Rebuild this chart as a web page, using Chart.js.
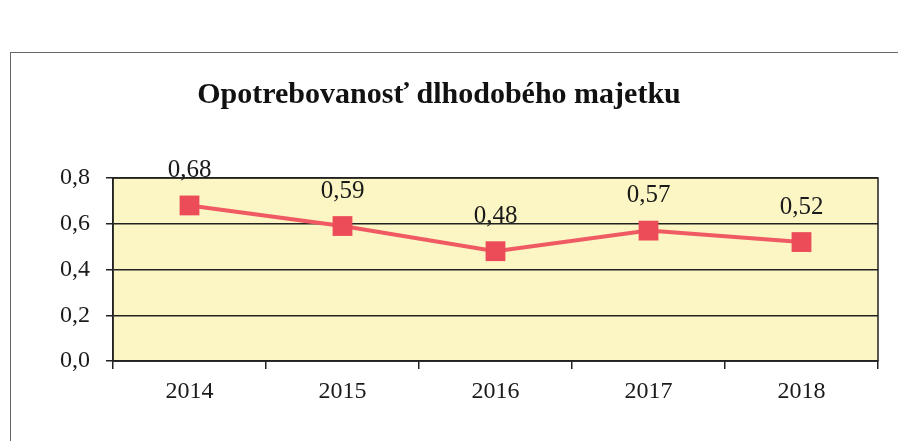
<!DOCTYPE html>
<html>
<head>
<meta charset="utf-8">
<script src="https://cdn.jsdelivr.net/npm/chart.js@4.4.1/dist/chart.umd.min.js"></script>
<style>
  html, body { margin: 0; padding: 0; background: #fff; }
  #frame {
    position: absolute; left: 10px; top: 52px; width: 900px; height: 400px;
    border-left: 1.5px solid #666; border-top: 1.5px solid #666;
  }
  #wrap { position: absolute; left: 0; top: 0; width: 898px; height: 441px; }
</style>
</head>
<body>
<div id="frame"></div>
<div id="wrap"><canvas id="grafico"></canvas></div>
<script>
// data
const roky = ['2014', '2015', '2016', '2017', '2018'];
const opotrebovanost = [0.68, 0.59, 0.48, 0.57, 0.52];
const osY = [0, 0.2, 0.4, 0.6, 0.8];

const pismo = "'Liberation Serif', 'Times New Roman', serif";
const ciarka = v => v.toFixed(1).replace('.', ',');

// zlte pozadie plochy grafu
const pozadiePlochy = {
    id: 'pozadiePlochy',
    beforeDraw(chart) {
        const { ctx, chartArea: { left, top, width, height } } = chart;
        ctx.save();
        ctx.fillStyle = '#fbf6c3';
        ctx.fillRect(left, top, width, height);
        ctx.restore();
    },
    afterDraw(chart) {
        // ram okolo plochy
        const { ctx, chartArea: { left, top, right, bottom } } = chart;
        ctx.save();
        ctx.strokeStyle = '#222';
        ctx.lineWidth = 1.5;
        ctx.strokeRect(left, top, right - left, bottom - top);
        ctx.restore();
    }
};

// popisky hodnot nad bodmi
const popisky = {
    id: 'popisky',
    afterDatasetsDraw(chart) {
        const { ctx } = chart;
        const meta = chart.getDatasetMeta(0);
        ctx.save();
        ctx.font = '25px ' + pismo;
        ctx.fillStyle = '#1a1a1a';
        ctx.textAlign = 'center';
        ctx.textBaseline = 'middle';
        meta.data.forEach((bod, i) => {
            ctx.fillText(opotrebovanost[i].toFixed(2).replace('.', ','), bod.x, bod.y - 35);
        });
        ctx.restore();
    }
};

new Chart(document.getElementById('grafico'), {
    type: 'line',
    data: {
        labels: roky,
        datasets: [{
            data: opotrebovanost,
            borderColor: '#ef5a63',
            backgroundColor: '#ec4c58',
            borderWidth: 4,
            pointStyle: 'rect',
            pointRadius: 14,
            pointBorderWidth: 0,
            tension: 0
        }]
    },
    options: {
        responsive: true,
        maintainAspectRatio: false,
        animation: false,
        layout: { padding: { top: 77, right: 20, bottom: 20, left: 0 } },
        plugins: {
            legend: { display: false },
            tooltip: { enabled: false },
            title: {
                display: true,
                text: 'Opotrebovanosť dlhodobého majetku',
                color: '#111',
                font: { family: pismo, size: 30, weight: 'bold' },
                padding: { top: 0, bottom: 65 }
            }
        },
        scales: {
            x: {
                offset: true,
                grid: { offset: true, display: true, drawOnChartArea: false, color: '#222', tickLength: 8, lineWidth: 1.5 },
                border: { display: true, color: '#222', width: 1.5 },
                ticks: { color: '#1a1a1a', padding: 8, font: { family: pismo, size: 24 } },
                afterFit(scale) { scale.height = 60; }
            },
            y: {
                min: 0,
                max: 0.8,
                afterBuildTicks(scale) { scale.ticks = osY.map(v => ({ value: v })); },
                grid: { color: '#222', lineWidth: 1.5, tickLength: 7 },
                border: { display: true, color: '#222', width: 1.5 },
                ticks: { color: '#1a1a1a', padding: 16, font: { family: pismo, size: 24 }, callback: v => ciarka(v) },
                afterFit(scale) { scale.width = 113; }
            }
        }
    },
    plugins: [pozadiePlochy, popisky]
});
</script>
</body>
</html>
